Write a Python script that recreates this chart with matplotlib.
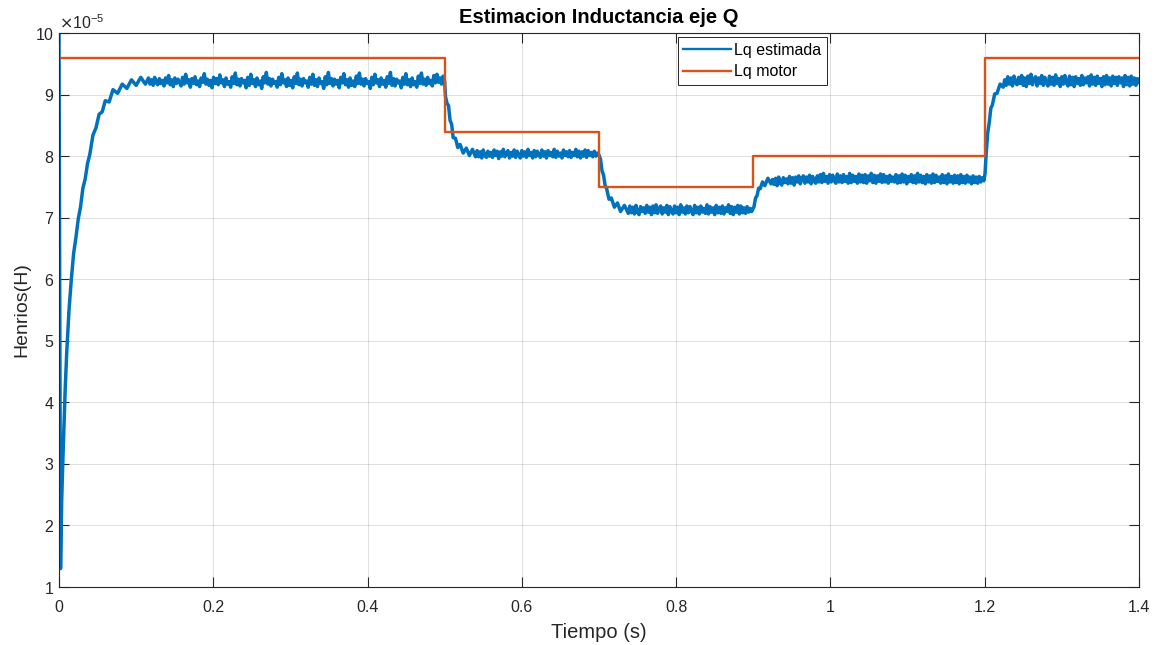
import numpy as np
import matplotlib.pyplot as plt
from matplotlib.ticker import FuncFormatter

# Lq motor (valores de referencia, x1e-5 H)
t_motor = [0, 0.5, 0.7, 0.9, 1.2, 1.4]
Lq_motor = [9.6, 8.4, 7.5, 8.0, 9.6, 9.6]

# Lq estimada (x1e-5 H)
# arranque
t_ini = [0, 0.002, 0.0035, 0.005, 0.0065, 0.008, 0.010, 0.013, 0.016, 0.019,
         0.022, 0.025, 0.028, 0.031, 0.034, 0.037, 0.040, 0.044, 0.048, 0.052,
         0.056, 0.060, 0.065, 0.070, 0.076, 0.082, 0.088, 0.094, 0.100, 0.106, 0.112]
L_ini = [10.0, 1.30, 2.40, 3.05, 3.60, 4.20, 4.80, 5.50, 6.00, 6.42,
         6.68, 6.98, 7.18, 7.48, 7.63, 7.88, 8.03, 8.34, 8.46, 8.68,
         8.72, 8.90, 8.88, 9.08, 9.02, 9.17, 9.10, 9.24, 9.15, 9.28, 9.17]

# tramo 0.116 - 0.5 s (cada 2 ms)
L_p1 = [9.27, 9.17, 9.24, 9.15, 9.28, 9.19, 9.16, 9.26, 9.18, 9.23,
        9.14, 9.27, 9.19, 9.31, 9.16, 9.24, 9.13, 9.27, 9.18, 9.25,
        9.20, 9.14, 9.28, 9.17, 9.33, 9.19, 9.24, 9.12, 9.26, 9.18,
        9.29, 9.16, 9.22, 9.13, 9.27, 9.20, 9.34, 9.17, 9.25, 9.15,
        9.23, 9.11, 9.28, 9.18, 9.26, 9.16, 9.32, 9.19, 9.24, 9.13,
        9.27, 9.17, 9.21, 9.12, 9.29, 9.18, 9.35, 9.16, 9.25, 9.14,
        9.26, 9.19, 9.23, 9.11, 9.28, 9.15, 9.33, 9.18, 9.24, 9.13,
        9.27, 9.16, 9.22, 9.10, 9.29, 9.19, 9.36, 9.17, 9.26, 9.14,
        9.25, 9.18, 9.21, 9.12, 9.28, 9.16, 9.34, 9.19, 9.24, 9.13,
        9.27, 9.15, 9.23, 9.11, 9.29, 9.18, 9.35, 9.16, 9.25, 9.14,
        9.26, 9.19, 9.22, 9.12, 9.28, 9.17, 9.33, 9.15, 9.24, 9.13,
        9.27, 9.18, 9.21, 9.10, 9.29, 9.16, 9.36, 9.18, 9.26, 9.14,
        9.25, 9.17, 9.23, 9.11, 9.28, 9.19, 9.34, 9.16, 9.24, 9.12,
        9.27, 9.15, 9.22, 9.13, 9.30, 9.18, 9.35, 9.17, 9.25, 9.14,
        9.26, 9.18, 9.21, 9.10, 9.28, 9.16, 9.33, 9.19, 9.24, 9.13,
        9.27, 9.17, 9.23, 9.12, 9.29, 9.18, 9.36, 9.15, 9.26, 9.14,
        9.25, 9.19, 9.22, 9.11, 9.28, 9.17, 9.34, 9.16, 9.24, 9.13,
        9.27, 9.16, 9.21, 9.12, 9.30, 9.18, 9.35, 9.17, 9.25, 9.15,
        9.28, 9.18, 9.23, 9.14, 9.31, 9.19, 9.33, 9.20, 9.27, 9.17,
        9.30, 9.21]

# bajada en 0.5 s
t_b1 = [0.501, 0.503, 0.505, 0.507, 0.509, 0.511, 0.514, 0.517, 0.520, 0.524,
        0.528, 0.532, 0.536, 0.540]
L_b1 = [8.97, 8.86, 8.82, 8.58, 8.52, 8.30, 8.29, 8.14, 8.19, 8.05,
        8.13, 8.01, 8.11, 7.99]

# tramo 0.542 - 0.7 s
L_p2 = [8.09, 7.99, 8.07, 7.97, 8.10, 8.01, 7.98, 8.08, 8.00, 8.06,
        7.98, 8.10, 8.01, 8.08, 7.96, 8.07, 8.00, 8.11, 7.99, 8.05,
        8.09, 7.97, 8.06, 8.00, 8.10, 7.98, 8.08, 8.01, 7.97, 8.09,
        8.00, 8.07, 7.98, 8.11, 8.01, 8.06, 7.97, 8.09, 7.99, 8.08,
        8.02, 7.98, 8.10, 8.00, 8.07, 7.97, 8.09, 8.01, 8.06, 7.99,
        8.11, 7.98, 8.08, 8.00, 8.05, 7.97, 8.10, 8.01, 8.07, 7.99,
        8.09, 7.98, 8.06, 8.01, 8.11, 7.99, 8.08, 7.97, 8.07, 8.00,
        8.10, 7.98, 8.09, 8.01, 8.06, 7.99, 8.08, 8.00, 8.05, 8.02]

# bajada en 0.7 s
t_b2 = [0.702, 0.704, 0.706, 0.708, 0.710, 0.713, 0.716, 0.720, 0.724, 0.728,
        0.733, 0.738]
L_b2 = [7.95, 7.76, 7.69, 7.52, 7.47, 7.30, 7.32, 7.17, 7.24, 7.10,
        7.20, 7.07]

# tramo 0.740 - 0.898 s
L_p3 = [7.19, 7.08, 7.17, 7.06, 7.20, 7.09, 7.05, 7.18, 7.10, 7.16,
        7.07, 7.20, 7.09, 7.17, 7.05, 7.19, 7.08, 7.21, 7.07, 7.15,
        7.19, 7.06, 7.16, 7.09, 7.20, 7.05, 7.18, 7.10, 7.06, 7.19,
        7.08, 7.17, 7.05, 7.21, 7.09, 7.16, 7.06, 7.19, 7.08, 7.18,
        7.10, 7.05, 7.20, 7.08, 7.17, 7.06, 7.19, 7.09, 7.15, 7.07,
        7.21, 7.06, 7.18, 7.09, 7.16, 7.05, 7.20, 7.08, 7.17, 7.07,
        7.19, 7.06, 7.16, 7.10, 7.21, 7.07, 7.18, 7.05, 7.17, 7.09,
        7.20, 7.06, 7.19, 7.08, 7.16, 7.07, 7.18, 7.09, 7.15, 7.10]

# subida en 0.9 s
t_b3 = [0.901, 0.903, 0.905, 0.907, 0.909, 0.912, 0.915, 0.919, 0.923]
L_b3 = [7.18, 7.32, 7.36, 7.48, 7.47, 7.58, 7.52, 7.64, 7.55]

# tramo 0.925 - 1.199 s
L_p4 = [7.62, 7.54, 7.64, 7.52, 7.66, 7.56, 7.53, 7.65, 7.57, 7.63,
        7.55, 7.67, 7.56, 7.65, 7.53, 7.66, 7.58, 7.68, 7.55, 7.64,
        7.68, 7.56, 7.66, 7.58, 7.69, 7.55, 7.67, 7.59, 7.56, 7.68,
        7.58, 7.70, 7.57, 7.72, 7.59, 7.67, 7.56, 7.70, 7.58, 7.69,
        7.60, 7.56, 7.71, 7.58, 7.68, 7.57, 7.70, 7.59, 7.67, 7.56,
        7.72, 7.57, 7.69, 7.59, 7.67, 7.56, 7.71, 7.58, 7.69, 7.57,
        7.70, 7.56, 7.68, 7.60, 7.72, 7.57, 7.69, 7.56, 7.68, 7.59,
        7.71, 7.57, 7.70, 7.58, 7.67, 7.56, 7.69, 7.59, 7.66, 7.58,
        7.70, 7.56, 7.68, 7.57, 7.71, 7.58, 7.69, 7.55, 7.67, 7.59,
        7.70, 7.57, 7.68, 7.56, 7.72, 7.58, 7.69, 7.57, 7.67, 7.55,
        7.70, 7.58, 7.68, 7.56, 7.71, 7.57, 7.69, 7.59, 7.66, 7.56,
        7.70, 7.57, 7.68, 7.55, 7.71, 7.58, 7.67, 7.56, 7.69, 7.57,
        7.68, 7.55, 7.70, 7.57, 7.67, 7.56, 7.69, 7.58, 7.66, 7.55,
        7.68, 7.57, 7.66, 7.56, 7.67, 7.58, 7.65, 7.60]

# subida en 1.2 s
t_b4 = [1.2005, 1.202, 1.204, 1.206, 1.208, 1.210, 1.213, 1.216, 1.220, 1.224]
L_b4 = [7.72, 8.05, 8.38, 8.55, 8.78, 8.83, 9.01, 9.02, 9.17, 9.12]

# tramo 1.226 - 1.4 s
L_p5 = [9.24, 9.15, 9.29, 9.17, 9.27, 9.14, 9.30, 9.19, 9.16, 9.28,
        9.18, 9.31, 9.15, 9.27, 9.13, 9.30, 9.18, 9.33, 9.16, 9.26,
        9.29, 9.14, 9.27, 9.18, 9.31, 9.15, 9.28, 9.19, 9.14, 9.30,
        9.17, 9.28, 9.15, 9.32, 9.18, 9.26, 9.13, 9.29, 9.17, 9.31,
        9.19, 9.14, 9.30, 9.16, 9.28, 9.13, 9.29, 9.18, 9.26, 9.15,
        9.31, 9.16, 9.27, 9.19, 9.29, 9.14, 9.32, 9.17, 9.28, 9.15,
        9.30, 9.18, 9.26, 9.13, 9.29, 9.16, 9.31, 9.17, 9.27, 9.14,
        9.30, 9.18, 9.28, 9.15, 9.29, 9.19, 9.27, 9.13, 9.31, 9.16,
        9.28, 9.14, 9.30, 9.17, 9.27, 9.15, 9.26, 9.20]

t_est = np.concatenate([
    t_ini,
    np.linspace(0.116, 0.500, len(L_p1)), t_b1,
    np.linspace(0.542, 0.700, len(L_p2)), t_b2,
    np.linspace(0.740, 0.898, len(L_p3)), t_b3,
    np.linspace(0.925, 1.199, len(L_p4)), t_b4,
    np.linspace(1.226, 1.400, len(L_p5)),
])
L_est = np.concatenate([L_ini, L_p1, L_b1, L_p2, L_b2, L_p3, L_b3,
                        L_p4, L_b4, L_p5]) * 1e-5

plt.rcParams['font.family'] = ['Liberation Sans', 'DejaVu Sans']

fig = plt.figure(figsize=(11.61, 6.45), dpi=100)
ax = fig.add_axes([0.0508, 0.0899, 0.9302, 0.8589])

ax.plot(t_est, L_est, color='#0072BD', lw=2.5, label='Lq estimada')
ax.step(t_motor, np.array(Lq_motor) * 1e-5, where='post',
        color='#D95319', lw=1.7, label='Lq motor')

ax.set_xlim(0, 1.4)
ax.set_ylim(1e-5, 10e-5)
ax.set_xticks(np.arange(0, 1.41, 0.2))
ax.set_yticks(np.arange(1, 11) * 1e-5)
ax.xaxis.set_major_formatter(FuncFormatter(lambda v, p: f'{v:g}'))
ax.ticklabel_format(axis='y', style='sci', scilimits=(-5, -5), useMathText=True)

ax.grid(True, color='#262626', alpha=0.15, lw=0.7)
for s in ax.spines.values():
    s.set_color('#262626')
    s.set_linewidth(0.8)
ax.tick_params(direction='in', length=7, width=0.8, top=True, right=True,
               colors='#262626', labelsize=11.5)
ax.tick_params(axis='x', pad=9)
ax.yaxis.get_offset_text().set_fontsize(11.5)
ax.yaxis.get_offset_text().set_color('#262626')

ax.set_title('Estimacion Inductancia eje Q', fontsize=14.5, fontweight='bold', pad=7)
ax.set_xlabel('Tiempo (s)', fontsize=14.5, color='#262626', labelpad=6)
ax.set_ylabel('Henrios(H)', fontsize=14, color='#262626', labelpad=3)

leg = ax.legend(loc='upper left', bbox_to_anchor=(0.573, 0.992), fontsize=11.5,
                fancybox=False, framealpha=1, edgecolor='#262626',
                handlelength=3, handletextpad=0.2, labelspacing=0.4,
                borderpad=0.35, borderaxespad=0)
leg.get_frame().set_linewidth(0.7)
for h in leg.get_lines():
    h.set_linewidth(1.7)

fig.savefig('out.png', dpi=100)
